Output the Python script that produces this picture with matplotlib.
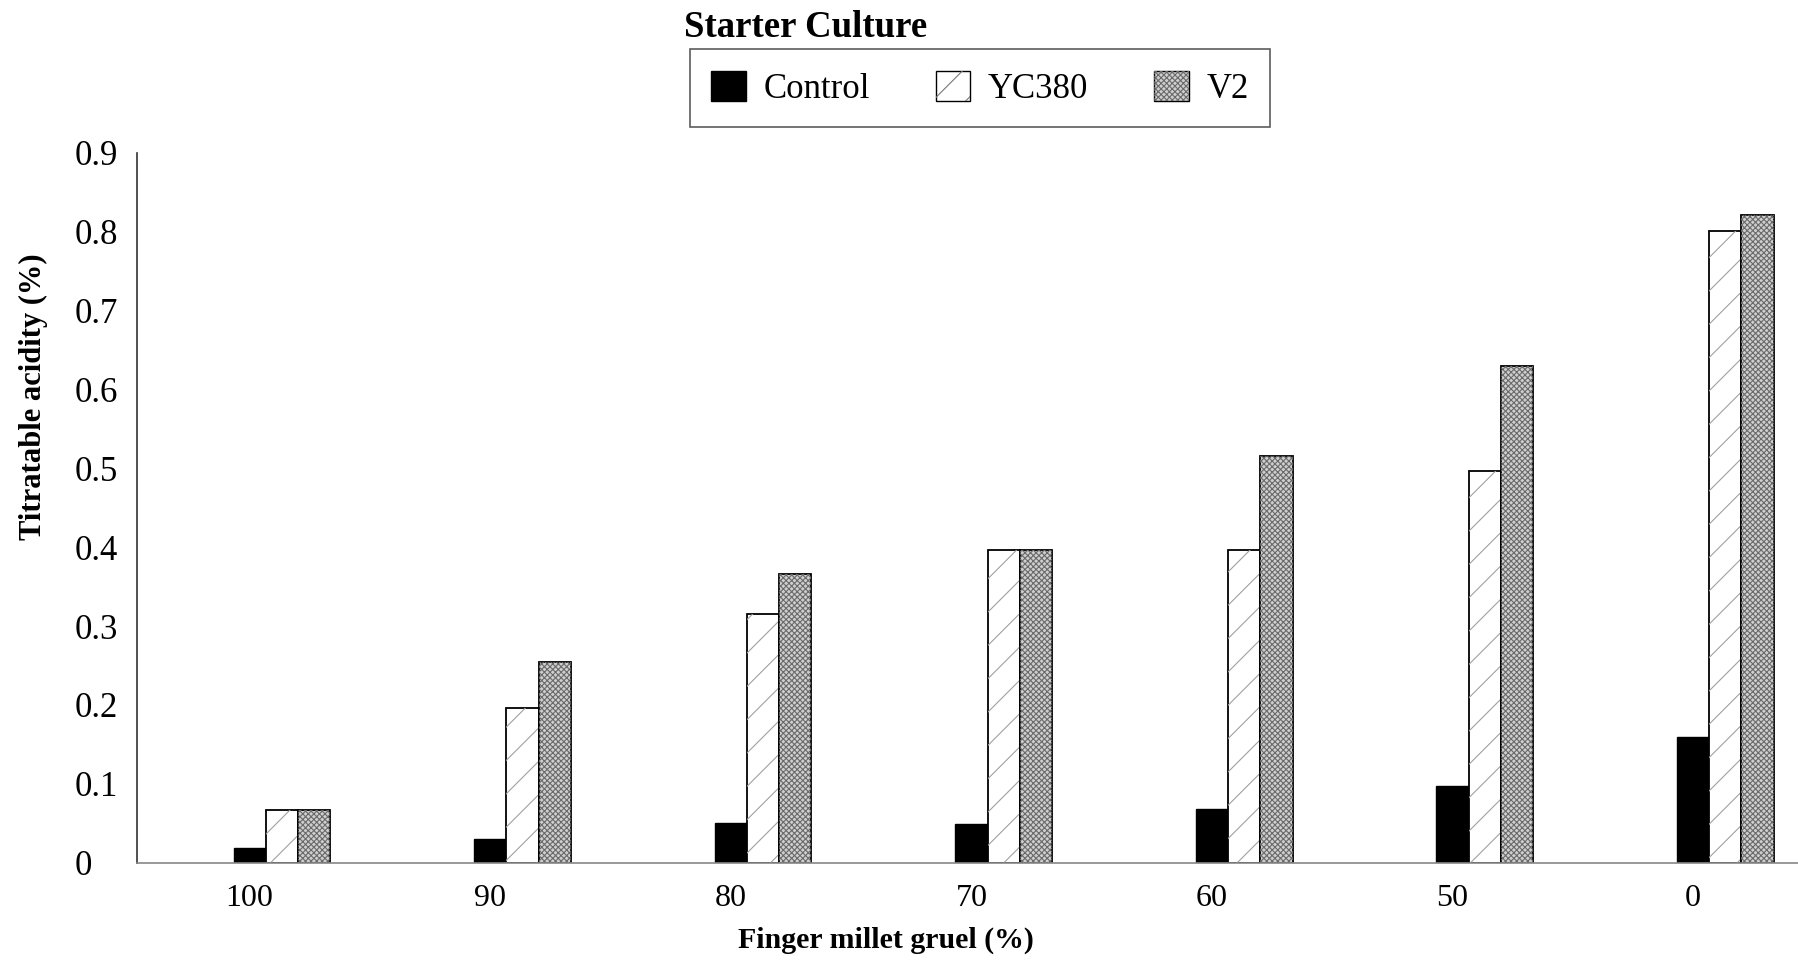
import matplotlib
matplotlib.use("Agg")
import matplotlib.pyplot as plt
from matplotlib.patches import Patch
from matplotlib.legend_handler import HandlerTuple
import numpy as np

categories = ["100", "90", "80", "70", "60", "50", "0"]
control = [0.019, 0.030, 0.051, 0.049, 0.068, 0.097, 0.160]
yc380 = [0.067, 0.196, 0.315, 0.397, 0.397, 0.496, 0.801]
v2 = [0.067, 0.254, 0.366, 0.397, 0.515, 0.629, 0.821]
yticks = [0, 0.1, 0.2, 0.3, 0.4, 0.5, 0.6, 0.7, 0.8, 0.9]
ytick_labels = ["0", "0.1", "0.2", "0.3", "0.4", "0.5", "0.6", "0.7", "0.8", "0.9"]

plt.rcParams['font.family'] = ['Liberation Serif', 'DejaVu Serif']
plt.rcParams['hatch.linewidth'] = 0.8

fig = plt.figure(figsize=(17.99, 9.6), dpi=100)
ax = fig.add_axes([0.0759, 0.1013, 0.9241, 0.7397])

x = np.arange(len(categories))
w = 0.134

# control: solid black
ax.bar(x, control, w, color='black', edgecolor='black', linewidth=1)
# YC380: white with sparse diagonal marks
ax.bar(x + w, yc380, w, color='white', edgecolor='black', linewidth=1.3)
ax.bar(x + w, yc380, w, fill=False, hatch='/', edgecolor='#a0a0a0', linewidth=0)
# V2: stippled grey
ax.bar(x + 2 * w, v2, w, color='#cfcfcf', edgecolor='black', linewidth=1.3)
ax.bar(x + 2 * w, v2, w, fill=False, hatch='xxxxxx', edgecolor='#6a6a6a', linewidth=0)

ax.set_xlim(-0.47, 6.44)
ax.set_ylim(0, 0.9)
ax.set_xticks(x)
ax.set_xticklabels(categories)
ax.set_yticks(yticks)
ax.set_yticklabels(ytick_labels)
ax.tick_params(length=0)
ax.tick_params(axis='x', pad=15, labelsize=23)
ax.tick_params(axis='y', pad=0, labelsize=25)
for lbl in ax.get_yticklabels():
    lbl.set_horizontalalignment('left')
    lbl.set_x(-0.0373)

ax.spines['top'].set_visible(False)
ax.spines['right'].set_visible(False)
ax.spines['left'].set_color('#333333')
ax.spines['left'].set_linewidth(1.2)
ax.spines['bottom'].set_color('#888888')
ax.spines['bottom'].set_linewidth(1.2)

ax.set_ylabel("Titratable acidity (%)", fontsize=22, fontweight='bold')
ax.yaxis.set_label_coords(-0.0535, 0.657)
ax.set_xlabel("Finger millet gruel (%)", fontsize=21.5, fontweight='bold')
ax.xaxis.set_label_coords(0.451, -0.09)

fig.text(0.448, 0.99, "Starter Culture", fontsize=26.5, fontweight='bold', ha='center', va='top')

h_ctrl = Patch(facecolor='black', edgecolor='black')
h_yc = (Patch(facecolor='white', edgecolor='black'),
        Patch(fill=False, hatch='/', edgecolor='#777777', linewidth=0))
h_v2 = (Patch(facecolor='#cfcfcf', edgecolor='black'),
        Patch(fill=False, hatch='xxxxxx', edgecolor='#6a6a6a', linewidth=0))
leg = fig.legend([h_ctrl, h_yc, h_v2], ["Control", "YC380", "V2"],
                 handler_map={tuple: HandlerTuple(ndivide=1)},
                 ncol=3, loc='upper left', bbox_to_anchor=(0.3833, 0.9486),
                 fontsize=25, frameon=True, fancybox=False, edgecolor='#333333',
                 handlelength=1.0, handleheight=0.95, handletextpad=0.5,
                 columnspacing=1.9, borderpad=0.62, borderaxespad=0)
leg.get_frame().set_linewidth(1.2)

fig.savefig("out.png", dpi=100)
